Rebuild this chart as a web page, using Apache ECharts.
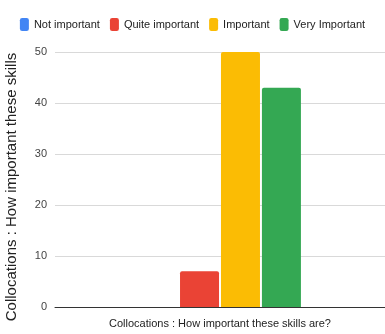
<!DOCTYPE html>
<html>
<head>
<meta charset="utf-8">
<script src="https://cdn.jsdelivr.net/npm/echarts@6/dist/echarts.min.js"></script>
<style>
  html, body { margin: 0; padding: 0; background: #fff; }
  #chart { width: 385px; height: 334px; }
</style>
</head>
<body>
<div id="chart"></div>
<script>
// Survey answers for one question, one bar per rating level
const categories = ['Collocations : How important these skills are?'];
const seriesNames = ['Not important', 'Quite important', 'Important', 'Very Important'];
const notImportant = [0];
const quiteImportant = [7];
const important = [50];
const veryImportant = [43];
const colors = ['#4285F4', '#EA4335', '#FBBC04', '#34A853'];
const yTicks = [0, 10, 20, 30, 40, 50];

const sans = '"Liberation Sans", Arial, sans-serif';
const values = [notImportant, quiteImportant, important, veryImportant];

const chart = echarts.init(document.getElementById('chart'), null, { renderer: 'canvas' });
chart.setOption({
  animation: false,
  color: colors,
  legend: {
    top: 13,
    left: 'center',
    itemWidth: 9,
    itemHeight: 13,
    itemGap: 10,
    icon: 'roundRect',
    textStyle: { fontFamily: sans, fontSize: 11, color: '#222' },
    data: seriesNames
  },
  grid: { left: 55, right: 0, top: 52, bottom: 27, containLabel: false, outerBoundsMode: 'none' },
  xAxis: {
    type: 'category',
    data: categories,
    axisLabel: { show: false },
    axisTick: { show: false },
    axisLine: { show: true, lineStyle: { color: '#333', width: 1 } },
    name: categories[0],
    nameLocation: 'middle',
    nameGap: 11,
    nameTextStyle: { fontFamily: sans, fontSize: 11, color: '#222' }
  },
  yAxis: {
    type: 'value',
    min: yTicks[0],
    max: yTicks[yTicks.length - 1],
    interval: 10,
    axisLine: { show: false },
    axisTick: { show: false },
    axisLabel: { fontFamily: sans, fontSize: 11, color: '#444', margin: 8 },
    splitLine: { lineStyle: { color: '#d9d9d9', width: 1 } },
    name: 'Collocations : How important these skills',
    nameLocation: 'middle',
    nameGap: 36,
    nameTextStyle: { fontFamily: sans, fontSize: 15, color: '#222', padding: [0, 15, 0, 0] }
  },
  series: seriesNames.map((name, i) => ({
    name: name,
    type: 'bar',
    data: values[i],
    barWidth: 39,
    barGap: '5%',
    itemStyle: { borderRadius: [2, 2, 0, 0] }
  }))
});
</script>
</body>
</html>
